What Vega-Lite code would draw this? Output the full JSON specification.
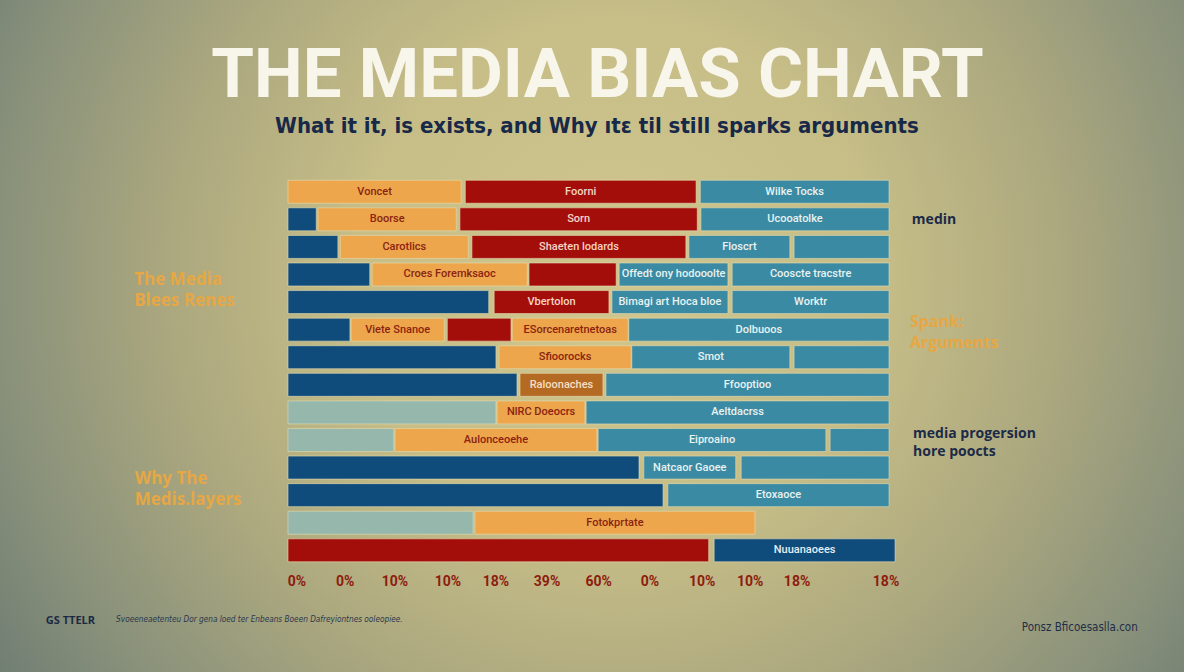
{
  "$schema": "https://vega.github.io/schema/vega-lite/v6.json",
  "width": 1184,
  "height": 672,
  "autosize": {"type": "fit", "contains": "padding"},
  "padding": 0,
  "background": "#8f9479",
  "config": {
    "font": "Roboto",
    "view": {
      "stroke": null,
      "fill": {
        "gradient": "radial",
        "x1": 0.52, "y1": 0.45, "r1": 0,
        "x2": 0.52, "y2": 0.45, "r2": 0.74,
        "stops": [
          {"offset": 0, "color": "#d0c68e"},
          {"offset": 0.3, "color": "#c6bd87"},
          {"offset": 0.5, "color": "#ada97f"},
          {"offset": 0.7, "color": "#8a927b"},
          {"offset": 0.88, "color": "#687770"},
          {"offset": 1, "color": "#526466"}
        ]
      }
    }
  },
  "datasets": {
    "segments": [
      {"row": 1, "start": 0, "end": 28.8, "kind": "amber", "label": "Voncet"},
      {"row": 1, "start": 29.5, "end": 67.9, "kind": "crimson", "label": "Foorni"},
      {"row": 1, "start": 68.6, "end": 100, "kind": "teal", "label": "Wilke Tocks"},
      {"row": 2, "start": 0, "end": 4.7, "kind": "navy", "label": ""},
      {"row": 2, "start": 5.0, "end": 28.0, "kind": "amber", "label": "Boorse"},
      {"row": 2, "start": 28.6, "end": 68.1, "kind": "crimson", "label": "Sorn"},
      {"row": 2, "start": 68.7, "end": 100, "kind": "teal", "label": "Ucooatolke"},
      {"row": 3, "start": 0, "end": 8.3, "kind": "navy", "label": ""},
      {"row": 3, "start": 8.7, "end": 30.0, "kind": "amber", "label": "Carotlics"},
      {"row": 3, "start": 30.6, "end": 66.2, "kind": "crimson", "label": "Shaeten lodards"},
      {"row": 3, "start": 66.7, "end": 83.5, "kind": "teal", "label": "Floscrt"},
      {"row": 3, "start": 84.2, "end": 100, "kind": "teal", "label": ""},
      {"row": 4, "start": 0, "end": 13.6, "kind": "navy", "label": ""},
      {"row": 4, "start": 14.0, "end": 39.8, "kind": "amber", "label": "Croes Foremksaoc"},
      {"row": 4, "start": 40.1, "end": 54.6, "kind": "crimson", "label": ""},
      {"row": 4, "start": 55.1, "end": 73.2, "kind": "teal", "label": "Offedt ony hodooolte"},
      {"row": 4, "start": 73.9, "end": 100, "kind": "teal", "label": "Cooscte tracstre"},
      {"row": 5, "start": 0, "end": 33.4, "kind": "navy", "label": ""},
      {"row": 5, "start": 34.3, "end": 53.4, "kind": "crimson", "label": "Vbertolon"},
      {"row": 5, "start": 53.9, "end": 73.2, "kind": "teal", "label": "Bimagi art Hoca bloe"},
      {"row": 5, "start": 73.9, "end": 100, "kind": "teal", "label": "Worktr"},
      {"row": 6, "start": 0, "end": 10.3, "kind": "navy", "label": ""},
      {"row": 6, "start": 10.5, "end": 26.0, "kind": "amber", "label": "Viete Snanoe"},
      {"row": 6, "start": 26.5, "end": 37.1, "kind": "crimson", "label": ""},
      {"row": 6, "start": 37.3, "end": 56.6, "kind": "amber", "label": "ESorcenaretnetoas"},
      {"row": 6, "start": 56.7, "end": 100, "kind": "teal", "label": "Dolbuoos"},
      {"row": 7, "start": 0, "end": 34.6, "kind": "navy", "label": ""},
      {"row": 7, "start": 35.1, "end": 57.1, "kind": "amber", "label": "Sfioorocks"},
      {"row": 7, "start": 57.2, "end": 83.5, "kind": "teal", "label": "Smot"},
      {"row": 7, "start": 84.2, "end": 100, "kind": "teal", "label": ""},
      {"row": 8, "start": 0, "end": 38.1, "kind": "navy", "label": ""},
      {"row": 8, "start": 38.6, "end": 52.4, "kind": "ochre", "label": "Raloonaches"},
      {"row": 8, "start": 52.9, "end": 100, "kind": "teal", "label": "Ffooptioo"},
      {"row": 9, "start": 0, "end": 34.6, "kind": "sage", "label": ""},
      {"row": 9, "start": 34.8, "end": 49.4, "kind": "amber", "label": "NlRC Doeocrs"},
      {"row": 9, "start": 49.6, "end": 100, "kind": "teal", "label": "Aeltdacrss"},
      {"row": 10, "start": 0, "end": 17.6, "kind": "sage", "label": ""},
      {"row": 10, "start": 17.8, "end": 51.4, "kind": "amber", "label": "Aulonceoehe"},
      {"row": 10, "start": 51.6, "end": 89.5, "kind": "teal", "label": "Eiproaino"},
      {"row": 10, "start": 90.2, "end": 100, "kind": "teal", "label": ""},
      {"row": 11, "start": 0, "end": 58.4, "kind": "navy", "label": ""},
      {"row": 11, "start": 59.2, "end": 74.5, "kind": "teal", "label": "Natcaor Gaoee"},
      {"row": 11, "start": 75.4, "end": 100, "kind": "teal", "label": ""},
      {"row": 12, "start": 0, "end": 62.4, "kind": "navy", "label": ""},
      {"row": 12, "start": 63.2, "end": 100, "kind": "teal", "label": "Etoxaoce"},
      {"row": 13, "start": 0, "end": 30.8, "kind": "sage", "label": ""},
      {"row": 13, "start": 31.1, "end": 77.7, "kind": "amber", "label": "Fotokprtate"},
      {"row": 14, "start": 0, "end": 70.0, "kind": "crimson", "label": ""},
      {"row": 14, "start": 70.9, "end": 101.0, "kind": "navy", "label": "Nuuanaoees"}
    ],
    "ticks": [
      {"label": "0%", "at": 1.5},
      {"label": "0%", "at": 9.5},
      {"label": "10%", "at": 17.8},
      {"label": "10%", "at": 26.6},
      {"label": "18%", "at": 34.6},
      {"label": "39%", "at": 43.1},
      {"label": "60%", "at": 51.7},
      {"label": "0%", "at": 60.2},
      {"label": "10%", "at": 68.9},
      {"label": "10%", "at": 76.9},
      {"label": "18%", "at": 84.7},
      {"label": "18%", "at": 99.5}
    ]
  },
  "layer": [
    {
      "data": {"name": "segments"},
      "mark": {"type": "bar", "orient": "horizontal", "size": 23, "stroke": "#e2dcb2", "strokeWidth": 1, "strokeOpacity": 0.6},
      "encoding": {
        "x": {"field": "start", "type": "quantitative", "scale": {"domain": [-47.92, 149.08], "nice": false, "zero": false}, "axis": null},
        "x2": {"field": "end"},
        "y": {"field": "row", "type": "quantitative", "scale": {"domain": [-5.77, 18.23], "reverse": true, "nice": false, "zero": false}, "axis": null},
        "color": {
          "field": "kind", "type": "nominal", "legend": null,
          "scale": {"domain": ["navy", "amber", "crimson", "teal", "sage", "ochre"], "range": ["#0f4b7b", "#eea64c", "#a30e0b", "#3b8aa4", "#95b7ac", "#b46a23"]}
        }
      }
    },
    {
      "data": {"name": "segments"},
      "transform": [
        {"filter": "datum.label != ''"},
        {"fold": ["start", "end"], "as": ["edge", "pos"]},
        {"aggregate": [{"op": "mean", "field": "pos", "as": "mid"}], "groupby": ["row", "kind", "label"]}
      ],
      "mark": {"type": "text", "align": "center", "baseline": "middle", "fontSize": 11, "fontWeight": 500, "font": "Roboto"},
      "encoding": {
        "x": {"field": "mid", "type": "quantitative", "scale": {"domain": [-47.92, 149.08], "nice": false, "zero": false}, "axis": null},
        "y": {"field": "row", "type": "quantitative", "scale": {"domain": [-5.77, 18.23], "reverse": true, "nice": false, "zero": false}, "axis": null},
        "text": {"field": "label"},
        "color": {
          "field": "kind", "type": "nominal", "legend": null,
          "scale": {"domain": ["navy", "amber", "crimson", "teal", "sage", "ochre"], "range": ["#e6edf4", "#8a2410", "#f5d4c4", "#e8f2f0", "#2a3a40", "#f6dfc3"]}
        }
      }
    },
    {
      "data": {"name": "ticks"},
      "mark": {"type": "text", "align": "center", "baseline": "alphabetic", "fontSize": 14, "fontWeight": "bold", "font": "Roboto", "color": "#8e1c0e"},
      "encoding": {
        "x": {"field": "at", "type": "quantitative", "scale": {"domain": [-47.92, 149.08], "nice": false, "zero": false}, "axis": null},
        "y": {"datum": 15.3, "type": "quantitative", "scale": {"domain": [-5.77, 18.23], "reverse": true, "nice": false, "zero": false}, "axis": null},
        "text": {"field": "label"}
      }
    },
    {
      "data": {"values": [{}]},
      "mark": {"type": "text", "text": "THE MEDIA BIAS CHART", "align": "center", "baseline": "alphabetic", "fontSize": 69, "fontWeight": "bold", "font": "Roboto", "color": "#f8f5ea"},
      "encoding": {
        "x": {"datum": 51.5, "type": "quantitative", "scale": {"domain": [-47.92, 149.08], "nice": false, "zero": false}, "axis": null},
        "y": {"datum": -2.45, "type": "quantitative", "scale": {"domain": [-5.77, 18.23], "reverse": true, "nice": false, "zero": false}, "axis": null}
      }
    },
    {
      "data": {"values": [{}]},
      "mark": {"type": "text", "text": "What it it, is exists, and  Why ıtɛ til still sparks arguments", "align": "center", "baseline": "alphabetic", "fontSize": 22, "fontWeight": "bold", "font": "DejaVu Sans Condensed, Lato, sans-serif", "color": "#172848"},
      "encoding": {
        "x": {"datum": 51.4, "type": "quantitative", "scale": {"domain": [-47.92, 149.08], "nice": false, "zero": false}, "axis": null},
        "y": {"datum": -1.13, "type": "quantitative", "scale": {"domain": [-5.77, 18.23], "reverse": true, "nice": false, "zero": false}, "axis": null}
      }
    },
    {
      "data": {"values": [{}]},
      "mark": {"type": "text", "text": ["The Media", "Blees Renes"], "lineHeight": 21, "align": "left", "baseline": "alphabetic", "fontSize": 17, "fontWeight": "bold", "font": "Open Sans", "color": "#e6a744"},
      "encoding": {
        "x": {"datum": -25.6, "type": "quantitative", "scale": {"domain": [-47.92, 149.08], "nice": false, "zero": false}, "axis": null},
        "y": {"datum": 4.38, "type": "quantitative", "scale": {"domain": [-5.77, 18.23], "reverse": true, "nice": false, "zero": false}, "axis": null}
      }
    },
    {
      "data": {"values": [{}]},
      "mark": {"type": "text", "text": ["Why The", "Medis.layers"], "lineHeight": 21, "align": "left", "baseline": "alphabetic", "fontSize": 17, "fontWeight": "bold", "font": "Open Sans", "color": "#e6a744"},
      "encoding": {
        "x": {"datum": -25.5, "type": "quantitative", "scale": {"domain": [-47.92, 149.08], "nice": false, "zero": false}, "axis": null},
        "y": {"datum": 11.58, "type": "quantitative", "scale": {"domain": [-5.77, 18.23], "reverse": true, "nice": false, "zero": false}, "axis": null}
      }
    },
    {
      "data": {"values": [{}]},
      "mark": {"type": "text", "text": "medin", "align": "left", "baseline": "alphabetic", "fontSize": 14, "fontWeight": "bold", "font": "Open Sans", "color": "#1b2a48"},
      "encoding": {
        "x": {"datum": 103.8, "type": "quantitative", "scale": {"domain": [-47.92, 149.08], "nice": false, "zero": false}, "axis": null},
        "y": {"datum": 2.16, "type": "quantitative", "scale": {"domain": [-5.77, 18.23], "reverse": true, "nice": false, "zero": false}, "axis": null}
      }
    },
    {
      "data": {"values": [{}]},
      "mark": {"type": "text", "text": ["Spank:", "Arguments"], "lineHeight": 21, "align": "left", "baseline": "alphabetic", "fontSize": 16, "fontWeight": "bold", "font": "Open Sans", "color": "#e6a744"},
      "encoding": {
        "x": {"datum": 103.5, "type": "quantitative", "scale": {"domain": [-47.92, 149.08], "nice": false, "zero": false}, "axis": null},
        "y": {"datum": 5.9, "type": "quantitative", "scale": {"domain": [-5.77, 18.23], "reverse": true, "nice": false, "zero": false}, "axis": null}
      }
    },
    {
      "data": {"values": [{}]},
      "mark": {"type": "text", "text": ["media progersion", "hore poocts"], "lineHeight": 18, "align": "left", "baseline": "alphabetic", "fontSize": 14, "fontWeight": "bold", "font": "Open Sans", "color": "#1b2a48"},
      "encoding": {
        "x": {"datum": 104.0, "type": "quantitative", "scale": {"domain": [-47.92, 149.08], "nice": false, "zero": false}, "axis": null},
        "y": {"datum": 9.92, "type": "quantitative", "scale": {"domain": [-5.77, 18.23], "reverse": true, "nice": false, "zero": false}, "axis": null}
      }
    },
    {
      "data": {"values": [{}]},
      "mark": {"type": "text", "text": "GS TTELR", "align": "left", "baseline": "alphabetic", "fontSize": 11, "fontWeight": "bold", "font": "Open Sans", "color": "#1b2a42"},
      "encoding": {
        "x": {"datum": -40.3, "type": "quantitative", "scale": {"domain": [-47.92, 149.08], "nice": false, "zero": false}, "axis": null},
        "y": {"datum": 16.66, "type": "quantitative", "scale": {"domain": [-5.77, 18.23], "reverse": true, "nice": false, "zero": false}, "axis": null}
      }
    },
    {
      "data": {"values": [{}]},
      "mark": {"type": "text", "text": "Svoeeneaetenteu Dor gena loed ter Enbeans Boeen Dafreyiontnes ooleopiee.", "align": "left", "baseline": "alphabetic", "fontSize": 8.2, "fontStyle": "italic", "font": "DejaVu Sans Condensed, Liberation Sans, sans-serif", "color": "#2b384c"},
      "encoding": {
        "x": {"datum": -28.6, "type": "quantitative", "scale": {"domain": [-47.92, 149.08], "nice": false, "zero": false}, "axis": null},
        "y": {"datum": 16.6, "type": "quantitative", "scale": {"domain": [-5.77, 18.23], "reverse": true, "nice": false, "zero": false}, "axis": null}
      }
    },
    {
      "data": {"values": [{}]},
      "mark": {"type": "text", "text": "Ponsz Bficoesaslla.con", "align": "left", "baseline": "alphabetic", "fontSize": 11.5, "font": "DejaVu Sans Condensed, Liberation Sans, sans-serif", "color": "#1f2d48"},
      "encoding": {
        "x": {"datum": 122.1, "type": "quantitative", "scale": {"domain": [-47.92, 149.08], "nice": false, "zero": false}, "axis": null},
        "y": {"datum": 16.91, "type": "quantitative", "scale": {"domain": [-5.77, 18.23], "reverse": true, "nice": false, "zero": false}, "axis": null}
      }
    }
  ],
  "resolve": {"scale": {"color": "independent"}}
}
